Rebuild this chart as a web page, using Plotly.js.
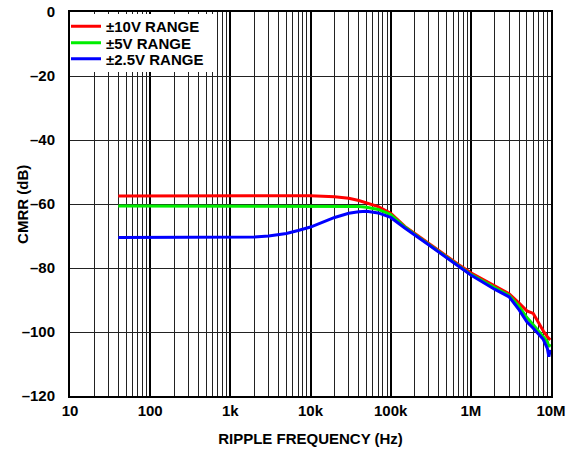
<!DOCTYPE html>
<html>
<head>
<meta charset="utf-8">
<script src="https://cdn.plot.ly/plotly-3.0.1.min.js"></script>
<style>html,body{margin:0;padding:0;background:#fff;}#chart{width:579px;height:454px;}</style>
</head>
<body>
<div id="chart"></div>
<script>
const freq = [40, 100, 300, 1000, 2000, 3000, 5000, 7000, 10000, 20000, 30000, 40000, 50000, 70000, 100000, 150000, 200000, 300000, 500000, 700000, 1e6, 2e6, 3e6, 4e6, 5e6, 6e6, 7e6, 8e6, 9e6, 9.4e6, 9.8e6];
const range10V = [-57.5, -57.5, -57.5, -57.4, -57.4, -57.4, -57.4, -57.4, -57.4, -57.7, -58.2, -58.9, -59.6, -60.8, -62.9, -67.0, -69.2, -72.4, -76.3, -78.9, -81.5, -85.5, -88.0, -91.0, -93.4, -94.2, -97.3, -99.6, -101.5, -102.0, -102.5];
const range5V = [-60.6, -60.6, -60.6, -60.6, -60.6, -60.6, -60.6, -60.6, -60.6, -60.6, -60.6, -60.8, -61.0, -61.7, -63.3, -67.2, -69.5, -72.7, -76.7, -79.3, -82.0, -86.2, -88.6, -92.0, -95.5, -97.7, -99.9, -101.5, -103.0, -104.6, -103.8];
const range2V5 = [-70.5, -70.5, -70.5, -70.4, -70.3, -70.0, -69.2, -68.3, -67.2, -64.2, -62.9, -62.4, -62.3, -62.8, -64.2, -67.5, -69.6, -72.8, -76.8, -79.5, -82.2, -86.7, -89.0, -93.1, -96.8, -98.8, -100.6, -102.3, -105.1, -107.7, -105.6];
const seriesNames = ['±10V RANGE', '±5V RANGE', '±2.5V RANGE'];
const xTickVals = [10, 100, 1000, 10000, 100000, 1e6, 1e7];
const xTickText = ['10', '100', '1k', '10k', '100k', '1M', '10M'];
const yTickVals = [0, -20, -40, -60, -80, -100, -120];
const yTickText = ['0', '–20', '–40', '–60', '–80', '–100', '–120'];
const xTitle = 'RIPPLE FREQUENCY (Hz)';
const yTitle = 'CMRR (dB)';

const fam = 'Arial, "Liberation Sans", sans-serif';
const bold = (size) => ({family: fam, size: size, color: '#000', weight: 'bold'});
const traces = [
  {x: freq, y: range10V, name: seriesNames[0], mode: 'lines', line: {color: '#ff0000', width: 3}, legend: 'legend'},
  {x: freq, y: range5V, name: seriesNames[1], mode: 'lines', line: {color: '#00ee00', width: 3}, legend: 'legend2'},
  {x: freq, y: range2V5, name: seriesNames[2], mode: 'lines', line: {color: '#0000ff', width: 3}, legend: 'legend3'}
];
const plotW = 481, plotH = 384;
const legendBase = {x: -4 / plotW, xanchor: 'left', yanchor: 'top', bgcolor: 'rgba(0,0,0,0)', borderwidth: 0,
  font: bold(15), itemwidth: 30};
const layout = {
  width: 579, height: 454,
  margin: {l: 70, r: 28, t: 12, b: 58, autoexpand: false},
  paper_bgcolor: '#fff', plot_bgcolor: '#fff',
  font: bold(15),
  showlegend: true,
  legend: Object.assign({}, legendBase, {y: 1 + 2 / plotH}),
  legend2: Object.assign({}, legendBase, {y: 1 - 14.5 / plotH}),
  legend3: Object.assign({}, legendBase, {y: 1 - 30.5 / plotH}),
  xaxis: {
    type: 'log', range: [1, 7], tickmode: 'array', tickvals: xTickVals, ticktext: xTickText,
    showgrid: true, gridcolor: '#000', gridwidth: 2,
    minor: {dtick: 'D1', showgrid: true, gridcolor: '#222', gridwidth: 1},
    showline: true, linecolor: '#000', linewidth: 2, mirror: true, ticks: '',
    zeroline: false, ticklabelstandoff: 0, automargin: false,
    tickfont: bold(15),
    title: {text: xTitle, standoff: 15, font: bold(15)}
  },
  yaxis: {
    range: [-120, 0], tickmode: 'array', tickvals: yTickVals, ticktext: yTickText,
    showgrid: true, gridcolor: '#222', gridwidth: 1,
    showline: true, linecolor: '#000', linewidth: 2, mirror: true, ticks: '',
    zeroline: false, ticklabelstandoff: 10, automargin: false,
    tickfont: bold(15)
  },
  shapes: [
    {type: 'rect', xref: 'paper', yref: 'paper', layer: 'above',
     x0: 1.5 / plotW, x1: 145 / plotW, y0: 1 - 60 / plotH, y1: 1 - 2 / plotH,
     fillcolor: '#fff', line: {width: 0}}
  ],
  annotations: [
    {text: yTitle, xref: 'paper', yref: 'paper', x: -0.1, y: 0.5, xanchor: 'center', yanchor: 'middle',
     textangle: -90, showarrow: false, font: bold(15)}
  ]
};
Plotly.newPlot('chart', traces, layout, {staticPlot: true, displayModeBar: false});
</script>
</body>
</html>
